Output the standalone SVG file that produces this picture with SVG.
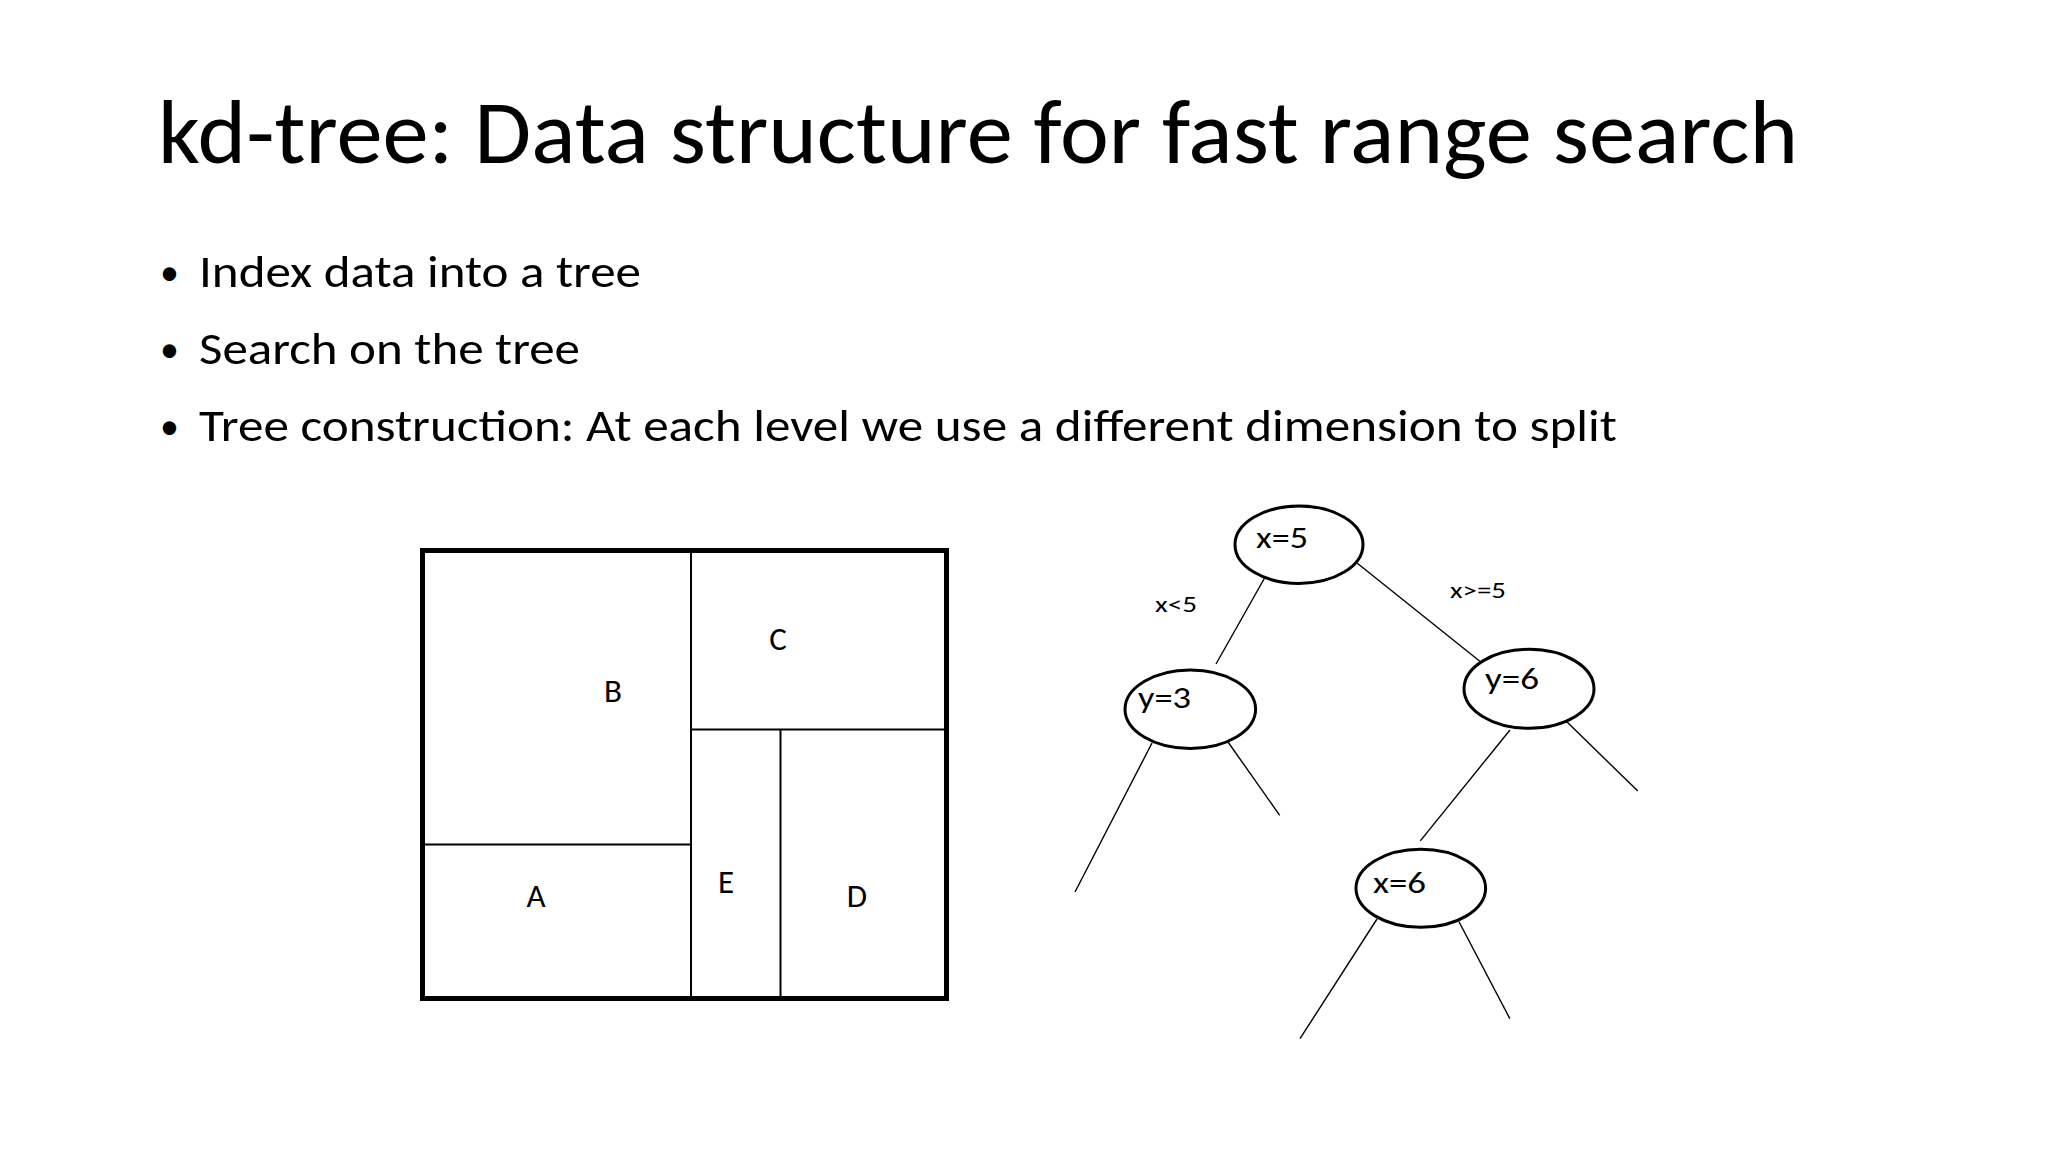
<svg xmlns="http://www.w3.org/2000/svg" width="2048" height="1152" viewBox="0 0 2048 1152">
<style>
text { font-family: Carlito, Lato, "Open Sans", "Liberation Sans", sans-serif; fill: #000; }
.title { font-size: 90px; font-weight: 300; }
.bullet { font-size: 46px; }
.dot { font-size: 38px; }
.region { font-size: 33px; text-anchor: middle; }
.nlabel { font-size: 30px; }
.elabel { font-size: 23px; }
.outer { fill: none; stroke: #000; stroke-width: 5; }
.split { stroke: #000; stroke-width: 2; }
.node { fill: #fff; stroke: #000; stroke-width: 3; }
.edge { stroke: #000; stroke-width: 1.4; }
</style>
<rect width="2048" height="1152" fill="#fff"/>
<text class="title" x="158" y="163" textLength="1640" lengthAdjust="spacingAndGlyphs">kd-tree: Data structure for fast range search</text>
<g id="bullets">
<text class="dot" x="160" y="285">•</text>
<text class="bullet" x="199" y="287" textLength="442" lengthAdjust="spacingAndGlyphs">Index data into a tree</text>
<text class="dot" x="160" y="362">•</text>
<text class="bullet" x="199" y="364" textLength="381" lengthAdjust="spacingAndGlyphs">Search on the tree</text>
<text class="dot" x="160" y="439">•</text>
<text class="bullet" x="199" y="441" textLength="1418" lengthAdjust="spacingAndGlyphs">Tree construction: At each level we use a different dimension to split</text>
</g>
<g id="partition">
<rect class="outer" x="422.5" y="550.5" width="524" height="448"/>
<line class="split" x1="691" y1="550.5" x2="691" y2="998.5"/>
<line class="split" x1="422.5" y1="844.5" x2="691" y2="844.5"/>
<line class="split" x1="691" y1="729.5" x2="946.5" y2="729.5"/>
<line class="split" x1="780.5" y1="729.5" x2="780.5" y2="998.5"/>
<text class="region" x="613" y="702">B</text>
<text class="region" x="778" y="650">C</text>
<text class="region" x="536" y="907">A</text>
<text class="region" x="726" y="893">E</text>
<text class="region" x="857" y="907">D</text>
</g>
<g id="connectors">
<line class="edge" x1="1266.3" y1="575" x2="1216" y2="664"/>
<line class="edge" x1="1357.3" y1="563.3" x2="1482" y2="663"/>
<line class="edge" x1="1152" y1="743" x2="1075" y2="892"/>
<line class="edge" x1="1228" y1="742" x2="1279.7" y2="815.3"/>
<line class="edge" x1="1510" y1="730" x2="1420.3" y2="840.9"/>
<line class="edge" x1="1561.7" y1="716.7" x2="1637.8" y2="791.1"/>
<line class="edge" x1="1377" y1="919" x2="1300" y2="1038.7"/>
<line class="edge" x1="1459" y1="921.7" x2="1509.8" y2="1018.6"/>
<text class="elabel" x="1155" y="612" textLength="42" lengthAdjust="spacingAndGlyphs">x&lt;5</text>
<text class="elabel" x="1450" y="598" textLength="56" lengthAdjust="spacingAndGlyphs">x&gt;=5</text>
</g>
<g id="node-x5">
<ellipse class="node" cx="1299" cy="544.7" rx="64" ry="38.7"/>
<text class="nlabel" x="1256" y="548" textLength="52" lengthAdjust="spacingAndGlyphs">x=5</text>
</g>
<g id="node-y3">
<ellipse class="node" cx="1190.3" cy="709.2" rx="65.3" ry="39.2"/>
<text class="nlabel" x="1138" y="708" textLength="53" lengthAdjust="spacingAndGlyphs">y=3</text>
</g>
<g id="node-y6">
<ellipse class="node" cx="1529" cy="688.8" rx="65" ry="39.5"/>
<text class="nlabel" x="1485" y="689" textLength="54" lengthAdjust="spacingAndGlyphs">y=6</text>
</g>
<g id="node-x6">
<ellipse class="node" cx="1420.8" cy="888.3" rx="64.8" ry="39"/>
<text class="nlabel" x="1373" y="893" textLength="53" lengthAdjust="spacingAndGlyphs">x=6</text>
</g>
</svg>
